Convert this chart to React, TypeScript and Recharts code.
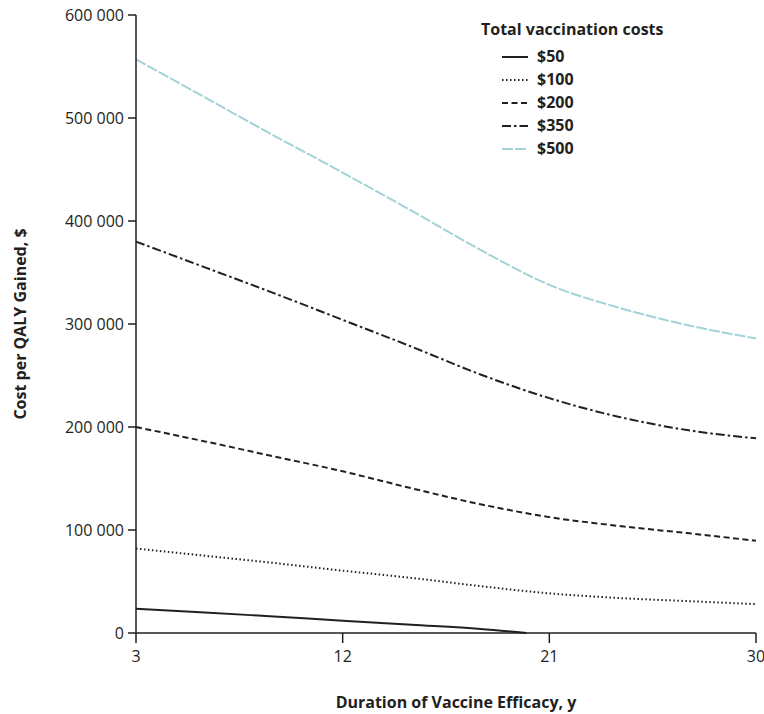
import React from "react";
import { LineChart, Line, XAxis, YAxis } from "recharts";

// Duration of vaccine efficacy (years)
const years = [3, 6, 9, 12, 15, 18, 21, 24, 27, 30];
// The $50 curve hits zero (cost saving) around year 20 and stops there
const years50 = [3, 6, 9, 12, 15, 18, 20];

// Cost per QALY gained, by total vaccination cost
const cost50 = [23500, 20000, 16000, 12000, 8000, 4000, 0];
const cost100 = [82000, 75000, 68000, 60500, 53500, 45500, 38500, 34000, 31000, 28000];
const cost200 = [200000, 186000, 171500, 157000, 140500, 125000, 112500, 104000, 97000, 89500];
const cost350 = [380000, 355000, 330000, 304000, 278000, 251000, 228000, 210000, 197000, 189000];
const cost500 = [557000, 520000, 483000, 447000, 410000, 372000, 338000, 316000, 299000, 286000];

const xTicks = [3, 12, 21, 30];
const yTicks = [0, 100000, 200000, 300000, 400000, 500000, 600000];

const FONT = "'Open Sans', 'DejaVu Sans', sans-serif";
const INK = "#231f20";
const TEAL = "#a2d3d7";

const series = [
  { key: "c50", name: "$50", color: INK, dash: undefined as string | undefined, width: 2 },
  { key: "c100", name: "$100", color: INK, dash: "1.5 2.5", width: 2 },
  { key: "c200", name: "$200", color: INK, dash: "6 3.5", width: 2 },
  { key: "c350", name: "$350", color: INK, dash: "9 3 2.5 3", width: 2 },
  { key: "c500", name: "$500", color: TEAL, dash: "11 2", width: 2 },
];

const rows = years.map((y, i) => ({
  year: y,
  c100: cost100[i],
  c200: cost200[i],
  c350: cost350[i],
  c500: cost500[i],
}));

const rows50 = years50.map((y, i) => ({ year: y, c50: cost50[i] }));

const fmt = (v: number) => String(v).replace(/\B(?=(\d{3})+(?!\d))/g, " ");

// Legend box drawn over the chart's top-right corner
function CostLegend() {
  return (
    <div
      style={{
        position: "absolute",
        left: 481,
        top: 18,
        fontFamily: FONT,
        color: INK,
        fontWeight: 700,
        lineHeight: "23px",
      }}
    >
      <div style={{ fontSize: 16, marginBottom: 4 }}>Total vaccination costs</div>
      {series.map((s) => (
        <div
          key={s.key}
          style={{ display: "flex", alignItems: "center", height: 23, paddingLeft: 21, fontSize: 16 }}
        >
          <svg width={28} height={10} style={{ marginRight: 7 }}>
            <line
              x1={0}
              y1={5}
              x2={26}
              y2={5}
              stroke={s.color}
              strokeWidth={s.width}
              strokeDasharray={s.dash}
            />
          </svg>
          {s.name}
        </div>
      ))}
    </div>
  );
}

export default function App() {
  return (
    <div style={{ position: "absolute", left: 0, top: 0, width: 764, height: 714, background: "#fff" }}>
      <LineChart
        width={764}
        height={714}
        data={rows}
        margin={{ top: 15, right: 8, bottom: 0, left: 0 }}
      >
        <XAxis
          dataKey="year"
          type="number"
          domain={[3, 30]}
          ticks={xTicks}
          height={81}
          tickSize={10}
          tickMargin={8}
          stroke={INK}
          strokeWidth={1.5}
          tick={{ fill: INK, fontSize: 16, fontFamily: FONT }}
          label={{
            value: "Duration of Vaccine Efficacy, y",
            position: "insideBottom",
            offset: 6,
            style: { fill: INK, fontSize: 16, fontWeight: 700, fontFamily: FONT },
            dx: 10,
          }}
        />
        <YAxis
          type="number"
          domain={[0, 600000]}
          ticks={yTicks}
          width={136}
          tickSize={8}
          tickMargin={4}
          stroke={INK}
          strokeWidth={1.5}
          tickFormatter={fmt}
          tick={{ fill: INK, fontSize: 16, fontFamily: FONT }}
          label={{
            value: "Cost per QALY Gained, $",
            angle: -90,
            position: "insideLeft",
            offset: 20,
            style: { fill: INK, fontSize: 16, fontWeight: 700, fontFamily: FONT, textAnchor: "middle" },
          }}
        />
        {series.map((s) =>
          s.key === "c50" ? (
            <Line
              key={s.key}
              data={rows50}
              dataKey={s.key}
              name={s.name}
              type="monotone"
              stroke={s.color}
              strokeWidth={s.width}
              dot={false}
              isAnimationActive={false}
            />
          ) : (
            <Line
              key={s.key}
              dataKey={s.key}
              name={s.name}
              type="monotone"
              stroke={s.color}
              strokeWidth={s.width}
              strokeDasharray={s.dash}
              dot={false}
              isAnimationActive={false}
            />
          )
        )}
      </LineChart>
      <CostLegend />
    </div>
  );
}
